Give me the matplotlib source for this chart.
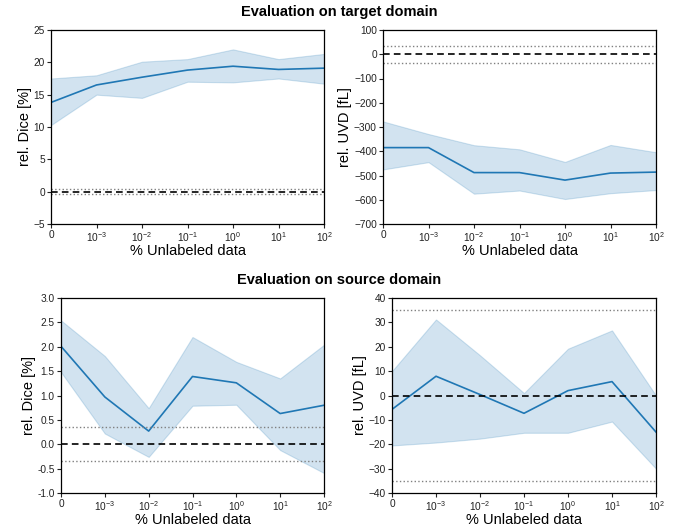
import matplotlib.pyplot as plt

plt.rcParams["font.family"] = ["Liberation Sans", "DejaVu Sans"]
plt.rcParams["mathtext.fontset"] = "custom"
plt.rcParams["mathtext.rm"] = "Liberation Sans"

X_LABELS = ["0", r"$10^{-3}$", r"$10^{-2}$", r"$10^{-1}$", r"$10^{0}$", r"$10^{1}$", r"$10^{2}$"]

# target domain
tgt_dice_mean = [13.8, 16.5, 17.7, 18.8, 19.4, 18.9, 19.1]
tgt_dice_hi = [17.5, 18.0, 20.1, 20.5, 22.0, 20.5, 21.3]
tgt_dice_lo = [10.3, 15.0, 14.5, 17.0, 16.9, 17.5, 16.7]

tgt_uvd_mean = [-385, -385, -488, -488, -519, -490, -486]
tgt_uvd_hi = [-277, -329, -375, -392, -444, -374, -404]
tgt_uvd_lo = [-475, -445, -575, -562, -597, -573, -560]

# source domain
src_dice_mean = [2.01, 0.97, 0.27, 1.39, 1.26, 0.63, 0.80]
src_dice_hi = [2.54, 1.81, 0.74, 2.20, 1.69, 1.35, 2.04]
src_dice_lo = [1.48, 0.22, -0.26, 0.79, 0.81, -0.12, -0.59]

src_uvd_mean = [-5.7, 7.9, 0.4, -7.3, 2.0, 5.7, -15.0]
src_uvd_hi = [10.0, 31.2, 16.5, 1.0, 19.2, 26.7, 0.0]
src_uvd_lo = [-20.5, -19.3, -17.7, -15.3, -15.3, -10.7, -30.0]

DICE_TOL = 0.35
UVD_TOL = 35


def draw_panel(ax, mean, lo, hi, tol, ylim, yticks, ylabel):
    x = list(range(len(mean)))
    ax.fill_between(x, lo, hi, color="#1f77b4", alpha=0.2, linewidth=0.8)
    ax.plot(x, mean, color="#1f77b4", lw=1.2)
    ax.axhline(0, color="black", ls="--", lw=1.2, dashes=(4, 2.5))
    ax.axhline(tol, color="gray", ls=":", lw=1.0)
    ax.axhline(-tol, color="gray", ls=":", lw=1.0)
    ax.set_xlim(0, 6)
    ax.set_ylim(*ylim)
    ax.set_xticks(x)
    ax.set_xticklabels(X_LABELS)
    ax.set_yticks(yticks)
    ax.tick_params(labelsize=7.3, colors="#222222", length=3, width=0.8, pad=1.5)
    ax.set_xlabel("% Unlabeled data", fontsize=10.5, labelpad=0)
    ax.set_ylabel(ylabel, fontsize=10.5, labelpad=1)
    for s in ax.spines.values():
        s.set_linewidth(0.9)


fig = plt.figure(figsize=(6.77, 5.27), dpi=100)
W, H = 677, 527


def add_ax(x0, y0, x1, y1):
    return fig.add_axes([x0 / W, 1 - y1 / H, (x1 - x0) / W, (y1 - y0) / H])


ax1 = add_ax(51, 30, 324, 224)
ax2 = add_ax(383, 30, 656, 224)
ax3 = add_ax(61, 298, 324, 493)
ax4 = add_ax(392, 298, 656, 493)

draw_panel(ax1, tgt_dice_mean, tgt_dice_lo, tgt_dice_hi, DICE_TOL,
           (-5, 25), range(-5, 26, 5), "rel. Dice [%]")
draw_panel(ax2, tgt_uvd_mean, tgt_uvd_lo, tgt_uvd_hi, UVD_TOL,
           (-700, 100), range(-700, 101, 100), "rel. UVD [fL]")
draw_panel(ax3, src_dice_mean, src_dice_lo, src_dice_hi, DICE_TOL,
           (-1, 3), [-1.0, -0.5, 0.0, 0.5, 1.0, 1.5, 2.0, 2.5, 3.0], "rel. Dice [%]")
ax3.set_yticklabels(["%.1f" % v for v in [-1.0, -0.5, 0.0, 0.5, 1.0, 1.5, 2.0, 2.5, 3.0]])
draw_panel(ax4, src_uvd_mean, src_uvd_lo, src_uvd_hi, UVD_TOL,
           (-40, 40), range(-40, 41, 10), "rel. UVD [fL]")

fig.text(339 / W, 1 - 12 / H, "Evaluation on target domain", ha="center", va="center",
         fontsize=10.5, fontweight="bold")
fig.text(339 / W, 1 - 280 / H, "Evaluation on source domain", ha="center", va="center",
         fontsize=10.5, fontweight="bold")

fig.savefig("out.png", dpi=100)
